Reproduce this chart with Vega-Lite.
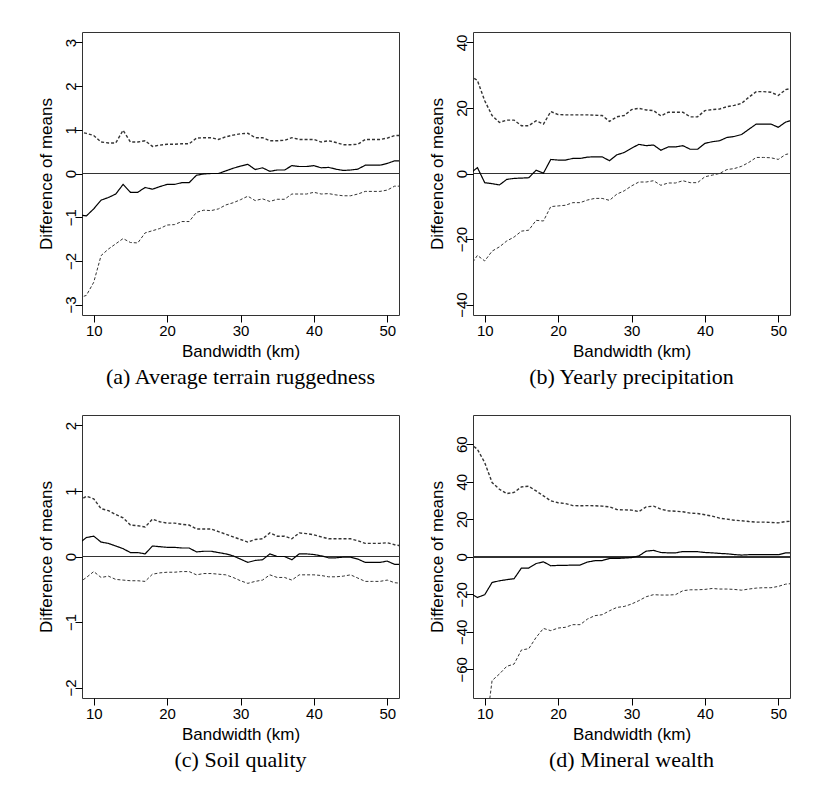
{
  "$schema": "https://vega.github.io/schema/vega-lite/v6.json",
  "padding": {"left": 36, "top": 31, "right": 0, "bottom": 0},
  "background": "white",
  "columns": 2,
  "spacing": {"column": 27, "row": 25},
  "datasets": {
    "rows": [
      {"p":"a","x":8,"m":-0.95,"lo":-2.85,"hi":0.95},
      {"p":"a","x":9,"m":-0.97,"lo":-2.79,"hi":0.92},
      {"p":"a","x":10,"m":-0.81,"lo":-2.49,"hi":0.87},
      {"p":"a","x":11,"m":-0.61,"lo":-1.88,"hi":0.72},
      {"p":"a","x":12,"m":-0.55,"lo":-1.73,"hi":0.70},
      {"p":"a","x":13,"m":-0.47,"lo":-1.61,"hi":0.70},
      {"p":"a","x":14,"m":-0.25,"lo":-1.49,"hi":0.99},
      {"p":"a","x":15,"m":-0.43,"lo":-1.58,"hi":0.72},
      {"p":"a","x":16,"m":-0.43,"lo":-1.59,"hi":0.72},
      {"p":"a","x":17,"m":-0.32,"lo":-1.36,"hi":0.75},
      {"p":"a","x":18,"m":-0.36,"lo":-1.31,"hi":0.62},
      {"p":"a","x":19,"m":-0.30,"lo":-1.26,"hi":0.65},
      {"p":"a","x":20,"m":-0.25,"lo":-1.18,"hi":0.67},
      {"p":"a","x":21,"m":-0.25,"lo":-1.17,"hi":0.67},
      {"p":"a","x":22,"m":-0.21,"lo":-1.10,"hi":0.68},
      {"p":"a","x":23,"m":-0.21,"lo":-1.10,"hi":0.68},
      {"p":"a","x":24,"m":-0.04,"lo":-0.89,"hi":0.81},
      {"p":"a","x":25,"m":-0.01,"lo":-0.84,"hi":0.82},
      {"p":"a","x":26,"m":0.00,"lo":-0.85,"hi":0.82},
      {"p":"a","x":27,"m":0.00,"lo":-0.81,"hi":0.78},
      {"p":"a","x":28,"m":0.06,"lo":-0.72,"hi":0.84},
      {"p":"a","x":29,"m":0.12,"lo":-0.67,"hi":0.88},
      {"p":"a","x":30,"m":0.17,"lo":-0.60,"hi":0.91},
      {"p":"a","x":31,"m":0.21,"lo":-0.52,"hi":0.92},
      {"p":"a","x":32,"m":0.09,"lo":-0.62,"hi":0.82},
      {"p":"a","x":33,"m":0.13,"lo":-0.58,"hi":0.82},
      {"p":"a","x":34,"m":0.05,"lo":-0.64,"hi":0.75},
      {"p":"a","x":35,"m":0.08,"lo":-0.59,"hi":0.75},
      {"p":"a","x":36,"m":0.08,"lo":-0.59,"hi":0.76},
      {"p":"a","x":37,"m":0.18,"lo":-0.47,"hi":0.82},
      {"p":"a","x":38,"m":0.16,"lo":-0.47,"hi":0.78},
      {"p":"a","x":39,"m":0.16,"lo":-0.47,"hi":0.78},
      {"p":"a","x":40,"m":0.18,"lo":-0.43,"hi":0.78},
      {"p":"a","x":41,"m":0.13,"lo":-0.47,"hi":0.72},
      {"p":"a","x":42,"m":0.14,"lo":-0.46,"hi":0.75},
      {"p":"a","x":43,"m":0.10,"lo":-0.49,"hi":0.71},
      {"p":"a","x":44,"m":0.07,"lo":-0.51,"hi":0.66},
      {"p":"a","x":45,"m":0.08,"lo":-0.51,"hi":0.66},
      {"p":"a","x":46,"m":0.10,"lo":-0.47,"hi":0.67},
      {"p":"a","x":47,"m":0.19,"lo":-0.41,"hi":0.78},
      {"p":"a","x":48,"m":0.19,"lo":-0.41,"hi":0.78},
      {"p":"a","x":49,"m":0.19,"lo":-0.41,"hi":0.78},
      {"p":"a","x":50,"m":0.23,"lo":-0.38,"hi":0.81},
      {"p":"a","x":51,"m":0.29,"lo":-0.29,"hi":0.87},
      {"p":"a","x":52,"m":0.29,"lo":-0.29,"hi":0.87},

      {"p":"b","x":8,"m":0.0,"lo":-28.3,"hi":29.9},
      {"p":"b","x":9,"m":1.8,"lo":-25.0,"hi":28.4},
      {"p":"b","x":10,"m":-2.8,"lo":-26.7,"hi":22.2},
      {"p":"b","x":11,"m":-3.1,"lo":-23.7,"hi":17.7},
      {"p":"b","x":12,"m":-3.5,"lo":-22.4,"hi":15.6},
      {"p":"b","x":13,"m":-1.8,"lo":-20.6,"hi":16.3},
      {"p":"b","x":14,"m":-1.5,"lo":-19.4,"hi":16.3},
      {"p":"b","x":15,"m":-1.4,"lo":-17.6,"hi":14.6},
      {"p":"b","x":16,"m":-1.3,"lo":-17.3,"hi":14.6},
      {"p":"b","x":17,"m":1.0,"lo":-14.3,"hi":16.1},
      {"p":"b","x":18,"m":0.1,"lo":-14.5,"hi":15.1},
      {"p":"b","x":19,"m":4.3,"lo":-10.1,"hi":18.9},
      {"p":"b","x":20,"m":4.1,"lo":-9.9,"hi":18.0},
      {"p":"b","x":21,"m":4.1,"lo":-9.7,"hi":17.9},
      {"p":"b","x":22,"m":4.6,"lo":-8.9,"hi":17.9},
      {"p":"b","x":23,"m":4.6,"lo":-8.9,"hi":17.9},
      {"p":"b","x":24,"m":5.0,"lo":-8.1,"hi":17.9},
      {"p":"b","x":25,"m":5.1,"lo":-7.6,"hi":17.8},
      {"p":"b","x":26,"m":5.1,"lo":-7.6,"hi":17.7},
      {"p":"b","x":27,"m":3.9,"lo":-8.2,"hi":15.9},
      {"p":"b","x":28,"m":5.7,"lo":-6.3,"hi":17.3},
      {"p":"b","x":29,"m":6.4,"lo":-5.3,"hi":17.7},
      {"p":"b","x":30,"m":7.7,"lo":-3.8,"hi":19.5},
      {"p":"b","x":31,"m":8.9,"lo":-2.6,"hi":19.9},
      {"p":"b","x":32,"m":8.5,"lo":-2.6,"hi":19.4},
      {"p":"b","x":33,"m":8.7,"lo":-2.2,"hi":19.2},
      {"p":"b","x":34,"m":7.1,"lo":-3.6,"hi":17.6},
      {"p":"b","x":35,"m":8.1,"lo":-2.9,"hi":18.7},
      {"p":"b","x":36,"m":8.1,"lo":-2.9,"hi":18.7},
      {"p":"b","x":37,"m":8.5,"lo":-2.2,"hi":18.7},
      {"p":"b","x":38,"m":7.4,"lo":-2.8,"hi":17.3},
      {"p":"b","x":39,"m":7.4,"lo":-2.8,"hi":17.3},
      {"p":"b","x":40,"m":9.2,"lo":-1.0,"hi":19.2},
      {"p":"b","x":41,"m":9.7,"lo":-0.5,"hi":19.5},
      {"p":"b","x":42,"m":10.0,"lo":0.0,"hi":19.7},
      {"p":"b","x":43,"m":11.0,"lo":1.2,"hi":20.4},
      {"p":"b","x":44,"m":11.3,"lo":1.5,"hi":20.8},
      {"p":"b","x":45,"m":11.9,"lo":2.2,"hi":21.4},
      {"p":"b","x":46,"m":13.5,"lo":3.4,"hi":23.3},
      {"p":"b","x":47,"m":15.1,"lo":4.9,"hi":25.0},
      {"p":"b","x":48,"m":15.1,"lo":4.9,"hi":25.0},
      {"p":"b","x":49,"m":15.1,"lo":4.8,"hi":24.8},
      {"p":"b","x":50,"m":14.1,"lo":4.3,"hi":23.8},
      {"p":"b","x":51,"m":15.7,"lo":5.8,"hi":25.6},
      {"p":"b","x":52,"m":16.3,"lo":6.3,"hi":26.1},

      {"p":"c","x":8,"m":0.20,"lo":-0.40,"hi":0.85},
      {"p":"c","x":9,"m":0.29,"lo":-0.32,"hi":0.92},
      {"p":"c","x":10,"m":0.31,"lo":-0.23,"hi":0.88},
      {"p":"c","x":11,"m":0.22,"lo":-0.32,"hi":0.73},
      {"p":"c","x":12,"m":0.20,"lo":-0.30,"hi":0.70},
      {"p":"c","x":13,"m":0.16,"lo":-0.35,"hi":0.64},
      {"p":"c","x":14,"m":0.12,"lo":-0.36,"hi":0.59},
      {"p":"c","x":15,"m":0.06,"lo":-0.37,"hi":0.48},
      {"p":"c","x":16,"m":0.06,"lo":-0.37,"hi":0.47},
      {"p":"c","x":17,"m":0.04,"lo":-0.38,"hi":0.45},
      {"p":"c","x":18,"m":0.16,"lo":-0.27,"hi":0.57},
      {"p":"c","x":19,"m":0.15,"lo":-0.25,"hi":0.53},
      {"p":"c","x":20,"m":0.14,"lo":-0.24,"hi":0.51},
      {"p":"c","x":21,"m":0.14,"lo":-0.24,"hi":0.51},
      {"p":"c","x":22,"m":0.13,"lo":-0.23,"hi":0.49},
      {"p":"c","x":23,"m":0.13,"lo":-0.23,"hi":0.48},
      {"p":"c","x":24,"m":0.07,"lo":-0.28,"hi":0.42},
      {"p":"c","x":25,"m":0.08,"lo":-0.26,"hi":0.42},
      {"p":"c","x":26,"m":0.08,"lo":-0.26,"hi":0.42},
      {"p":"c","x":27,"m":0.06,"lo":-0.27,"hi":0.38},
      {"p":"c","x":28,"m":0.04,"lo":-0.28,"hi":0.34},
      {"p":"c","x":29,"m":0.01,"lo":-0.32,"hi":0.30},
      {"p":"c","x":30,"m":-0.04,"lo":-0.37,"hi":0.26},
      {"p":"c","x":31,"m":-0.09,"lo":-0.41,"hi":0.22},
      {"p":"c","x":32,"m":-0.06,"lo":-0.38,"hi":0.26},
      {"p":"c","x":33,"m":-0.05,"lo":-0.36,"hi":0.27},
      {"p":"c","x":34,"m":0.04,"lo":-0.28,"hi":0.36},
      {"p":"c","x":35,"m":0.00,"lo":-0.32,"hi":0.31},
      {"p":"c","x":36,"m":0.00,"lo":-0.32,"hi":0.31},
      {"p":"c","x":37,"m":-0.05,"lo":-0.36,"hi":0.27},
      {"p":"c","x":38,"m":0.04,"lo":-0.28,"hi":0.36},
      {"p":"c","x":39,"m":0.04,"lo":-0.28,"hi":0.35},
      {"p":"c","x":40,"m":0.03,"lo":-0.28,"hi":0.33},
      {"p":"c","x":41,"m":0.01,"lo":-0.29,"hi":0.30},
      {"p":"c","x":42,"m":-0.02,"lo":-0.31,"hi":0.27},
      {"p":"c","x":43,"m":-0.02,"lo":-0.31,"hi":0.27},
      {"p":"c","x":44,"m":-0.01,"lo":-0.30,"hi":0.27},
      {"p":"c","x":45,"m":-0.01,"lo":-0.28,"hi":0.27},
      {"p":"c","x":46,"m":-0.04,"lo":-0.33,"hi":0.24},
      {"p":"c","x":47,"m":-0.09,"lo":-0.38,"hi":0.20},
      {"p":"c","x":48,"m":-0.09,"lo":-0.38,"hi":0.20},
      {"p":"c","x":49,"m":-0.09,"lo":-0.38,"hi":0.20},
      {"p":"c","x":50,"m":-0.07,"lo":-0.36,"hi":0.21},
      {"p":"c","x":51,"m":-0.12,"lo":-0.40,"hi":0.18},
      {"p":"c","x":52,"m":-0.12,"lo":-0.41,"hi":0.16},

      {"p":"d","x":8,"m":-19.5,"lo":-125,"hi":60.5},
      {"p":"d","x":9,"m":-21.7,"lo":-110,"hi":57.3},
      {"p":"d","x":10,"m":-20.2,"lo":-97,"hi":50.2},
      {"p":"d","x":11,"m":-13.7,"lo":-66.0,"hi":39.6},
      {"p":"d","x":12,"m":-12.8,"lo":-62.5,"hi":36.0},
      {"p":"d","x":13,"m":-12.2,"lo":-58.4,"hi":33.7},
      {"p":"d","x":14,"m":-11.7,"lo":-57.2,"hi":34.3},
      {"p":"d","x":15,"m":-6.0,"lo":-49.7,"hi":37.3},
      {"p":"d","x":16,"m":-6.0,"lo":-49.0,"hi":37.6},
      {"p":"d","x":17,"m":-3.6,"lo":-43.0,"hi":35.1},
      {"p":"d","x":18,"m":-2.7,"lo":-38.2,"hi":32.5},
      {"p":"d","x":19,"m":-4.8,"lo":-39.4,"hi":29.8},
      {"p":"d","x":20,"m":-4.6,"lo":-38.0,"hi":28.8},
      {"p":"d","x":21,"m":-4.6,"lo":-37.6,"hi":28.4},
      {"p":"d","x":22,"m":-4.4,"lo":-36.2,"hi":27.3},
      {"p":"d","x":23,"m":-4.4,"lo":-36.2,"hi":27.2},
      {"p":"d","x":24,"m":-2.8,"lo":-33.2,"hi":27.3},
      {"p":"d","x":25,"m":-2.1,"lo":-31.4,"hi":27.2},
      {"p":"d","x":26,"m":-2.0,"lo":-30.9,"hi":27.0},
      {"p":"d","x":27,"m":-0.9,"lo":-28.8,"hi":26.6},
      {"p":"d","x":28,"m":-0.9,"lo":-27.0,"hi":25.2},
      {"p":"d","x":29,"m":-0.7,"lo":-26.5,"hi":25.0},
      {"p":"d","x":30,"m":-0.4,"lo":-25.2,"hi":24.9},
      {"p":"d","x":31,"m":0.5,"lo":-23.4,"hi":24.1},
      {"p":"d","x":32,"m":3.0,"lo":-21.3,"hi":26.6},
      {"p":"d","x":33,"m":3.4,"lo":-20.2,"hi":27.0},
      {"p":"d","x":34,"m":2.3,"lo":-20.4,"hi":25.4},
      {"p":"d","x":35,"m":2.1,"lo":-20.4,"hi":24.5},
      {"p":"d","x":36,"m":2.1,"lo":-20.2,"hi":24.3},
      {"p":"d","x":37,"m":2.8,"lo":-18.1,"hi":24.0},
      {"p":"d","x":38,"m":2.7,"lo":-17.6,"hi":23.3},
      {"p":"d","x":39,"m":2.7,"lo":-17.6,"hi":23.1},
      {"p":"d","x":40,"m":2.3,"lo":-17.4,"hi":22.4},
      {"p":"d","x":41,"m":2.1,"lo":-16.9,"hi":21.7},
      {"p":"d","x":42,"m":1.8,"lo":-17.2,"hi":20.6},
      {"p":"d","x":43,"m":1.6,"lo":-17.2,"hi":20.1},
      {"p":"d","x":44,"m":1.2,"lo":-17.4,"hi":19.5},
      {"p":"d","x":45,"m":0.9,"lo":-17.8,"hi":19.2},
      {"p":"d","x":46,"m":1.1,"lo":-17.2,"hi":18.8},
      {"p":"d","x":47,"m":1.1,"lo":-16.7,"hi":18.5},
      {"p":"d","x":48,"m":1.1,"lo":-16.5,"hi":18.5},
      {"p":"d","x":49,"m":1.1,"lo":-16.5,"hi":18.3},
      {"p":"d","x":50,"m":1.1,"lo":-15.8,"hi":18.1},
      {"p":"d","x":51,"m":2.1,"lo":-14.6,"hi":18.8},
      {"p":"d","x":52,"m":2.1,"lo":-14.2,"hi":19.0}
    ]
  },
  "data": {"name": "rows"},
  "concat": [
    {
      "width": 317, "height": 283,
      "title": {"text": "(a) Average terrain ruggedness"},
      "transform": [{"filter": "datum.p === 'a'"}, {"fold": ["lo", "m", "hi"], "as": ["s", "v"]}],
      "layer": [
        {"mark": {"type": "rule", "color": "#333", "strokeWidth": 1}, "encoding": {"y": {"datum": 0, "type": "quantitative"}}},
        {"mark": {"type": "line", "clip": true},
         "encoding": {
           "x": {"field": "x", "type": "quantitative", "scale": {"domain": [8.4, 51.6], "nice": false, "zero": false}, "axis": {"title": "Bandwidth (km)", "values": [10, 20, 30, 40, 50], "format": "d"}},
           "y": {"field": "v", "type": "quantitative", "scale": {"domain": [-3.24, 3.24], "nice": false, "zero": false}, "axis": {"title": "Difference of means", "values": [-3, -2, -1, 0, 1, 2, 3], "format": "d"}},
           "detail": {"field": "s"},
           "strokeDash": {"field": "s", "scale": {"domain": ["lo", "m", "hi"], "range": [[3, 2], [1, 0], [3, 2]]}, "legend": null},
           "strokeWidth": {"field": "s", "scale": {"domain": ["lo", "m", "hi"], "range": [1, 1.4, 1]}, "legend": null},
           "color": {"field": "s", "scale": {"domain": ["lo", "m", "hi"], "range": ["#333", "#000", "#333"]}, "legend": null}
         }}
      ]
    },
    {
      "width": 317, "height": 283,
      "title": {"text": "(b) Yearly precipitation"},
      "transform": [{"filter": "datum.p === 'b'"}, {"fold": ["lo", "m", "hi"], "as": ["s", "v"]}],
      "layer": [
        {"mark": {"type": "rule", "color": "#333", "strokeWidth": 1}, "encoding": {"y": {"datum": 0, "type": "quantitative"}}},
        {"mark": {"type": "line", "clip": true},
         "encoding": {
           "x": {"field": "x", "type": "quantitative", "scale": {"domain": [8.4, 51.6], "nice": false, "zero": false}, "axis": {"title": "Bandwidth (km)", "values": [10, 20, 30, 40, 50], "format": "d"}},
           "y": {"field": "v", "type": "quantitative", "scale": {"domain": [-43.2, 43.2], "nice": false, "zero": false}, "axis": {"title": "Difference of means", "values": [-40, -20, 0, 20, 40], "format": "d"}},
           "detail": {"field": "s"},
           "strokeDash": {"field": "s", "scale": {"domain": ["lo", "m", "hi"], "range": [[3, 2], [1, 0], [3, 2]]}, "legend": null},
           "strokeWidth": {"field": "s", "scale": {"domain": ["lo", "m", "hi"], "range": [1, 1.4, 1]}, "legend": null},
           "color": {"field": "s", "scale": {"domain": ["lo", "m", "hi"], "range": ["#333", "#000", "#333"]}, "legend": null}
         }}
      ]
    },
    {
      "width": 317, "height": 283,
      "title": {"text": "(c) Soil quality"},
      "transform": [{"filter": "datum.p === 'c'"}, {"fold": ["lo", "m", "hi"], "as": ["s", "v"]}],
      "layer": [
        {"mark": {"type": "rule", "color": "#333", "strokeWidth": 1}, "encoding": {"y": {"datum": 0, "type": "quantitative"}}},
        {"mark": {"type": "line", "clip": true},
         "encoding": {
           "x": {"field": "x", "type": "quantitative", "scale": {"domain": [8.4, 51.6], "nice": false, "zero": false}, "axis": {"title": "Bandwidth (km)", "values": [10, 20, 30, 40, 50], "format": "d"}},
           "y": {"field": "v", "type": "quantitative", "scale": {"domain": [-2.16, 2.16], "nice": false, "zero": false}, "axis": {"title": "Difference of means", "values": [-2, -1, 0, 1, 2], "format": "d"}},
           "detail": {"field": "s"},
           "strokeDash": {"field": "s", "scale": {"domain": ["lo", "m", "hi"], "range": [[3, 2], [1, 0], [3, 2]]}, "legend": null},
           "strokeWidth": {"field": "s", "scale": {"domain": ["lo", "m", "hi"], "range": [1, 1.4, 1]}, "legend": null},
           "color": {"field": "s", "scale": {"domain": ["lo", "m", "hi"], "range": ["#333", "#000", "#333"]}, "legend": null}
         }}
      ]
    },
    {
      "width": 317, "height": 283,
      "title": {"text": "(d) Mineral wealth"},
      "transform": [{"filter": "datum.p === 'd'"}, {"fold": ["lo", "m", "hi"], "as": ["s", "v"]}],
      "layer": [
        {"mark": {"type": "rule", "color": "#333", "strokeWidth": 1}, "encoding": {"y": {"datum": 0, "type": "quantitative"}}},
        {"mark": {"type": "line", "clip": true},
         "encoding": {
           "x": {"field": "x", "type": "quantitative", "scale": {"domain": [8.4, 51.6], "nice": false, "zero": false}, "axis": {"title": "Bandwidth (km)", "values": [10, 20, 30, 40, 50], "format": "d"}},
           "y": {"field": "v", "type": "quantitative", "scale": {"domain": [-75.3, 75.6], "nice": false, "zero": false}, "axis": {"title": "Difference of means", "values": [-60, -40, -20, 0, 20, 40, 60], "format": "d"}},
           "detail": {"field": "s"},
           "strokeDash": {"field": "s", "scale": {"domain": ["lo", "m", "hi"], "range": [[3, 2], [1, 0], [3, 2]]}, "legend": null},
           "strokeWidth": {"field": "s", "scale": {"domain": ["lo", "m", "hi"], "range": [1, 1.4, 1]}, "legend": null},
           "color": {"field": "s", "scale": {"domain": ["lo", "m", "hi"], "range": ["#333", "#000", "#333"]}, "legend": null}
         }}
      ]
    }
  ],
  "resolve": {"scale": {"strokeDash": "independent", "strokeWidth": "independent", "color": "independent"}},
  "config": {
    "view": {"stroke": "#333", "strokeWidth": 1},
    "axis": {
      "domain": false, "grid": false,
      "tickColor": "#000", "tickSize": 7, "tickWidth": 1,
      "labelFont": "Liberation Sans", "labelFontSize": 15, "labelColor": "#000",
      "titleFont": "Liberation Sans", "titleFontSize": 17, "titleFontWeight": "normal", "titleColor": "#000"
    },
    "axisX": {"labelPadding": 1, "titlePadding": 5, "labelFlush": false},
    "axisY": {"labelAngle": 270, "labelAlign": "center", "labelBaseline": "alphabetic", "labelPadding": 0, "titlePadding": 8, "labelFlush": false},
    "title": {"font": "Liberation Serif", "fontSize": 22, "fontWeight": "normal", "color": "#000", "orient": "bottom", "frame": "group", "anchor": "middle", "offset": 8}
  }
}
